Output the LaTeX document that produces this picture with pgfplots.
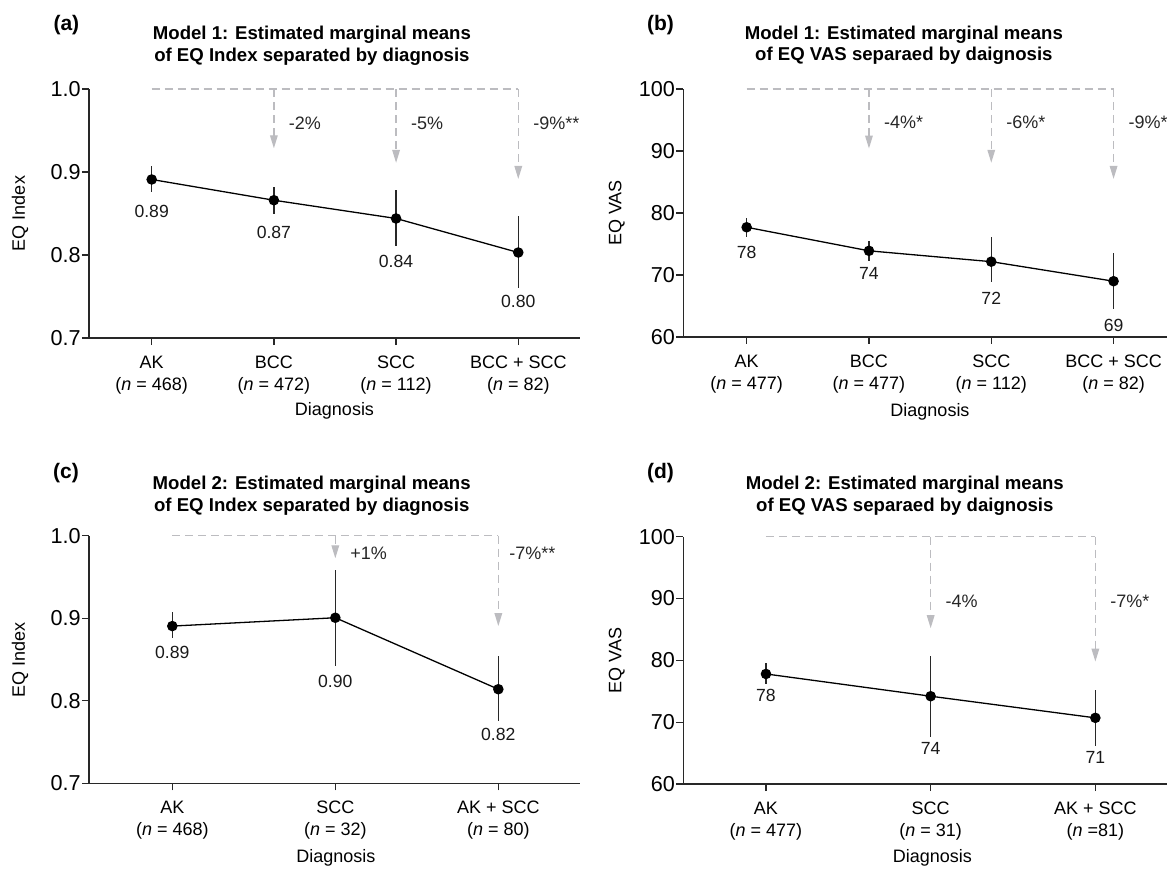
\documentclass[border=0pt]{standalone}
\usepackage{fontspec}
\setmainfont{Liberation Sans}
\usepackage{pgfplots}
\pgfplotsset{compat=1.18}
\usetikzlibrary{arrows.meta}
\definecolor{ag}{RGB}{188,188,192}
\definecolor{ax}{RGB}{40,40,40}
\newcommand{\tickf}{\fontsize{10.8}{12}\selectfont}
\newcommand{\catf}{\fontsize{9}{11}\selectfont}
\newcommand{\labf}{\fontsize{8.8}{10}\selectfont}
\newcommand{\titf}{\fontsize{9.3}{10.85}\selectfont\bfseries}
\newcommand{\letf}{\fontsize{10.5}{12}\selectfont\bfseries}

\pgfplotsset{
 panel/.style={
  scale only axis, clip=false,
  axis x line*=bottom, axis y line*=left,
  axis line style={line width=0.65pt, ax, -},
  tick align=outside, major tick length=3.5pt,
  xtick pos=left, ytick pos=left,
  every tick/.style={line width=0.65pt, ax},
  xticklabel style={align=center, font=\catf, yshift=-2pt},
  yticklabel style={font=\tickf, inner sep=0pt, xshift=-0.5pt, /pgf/number format/assume math mode=true},
  label style={font=\catf},
  xlabel={Diagnosis},
  title style={font=\titf, align=center, anchor=center, yshift=-6pt},
 },
 meanline/.style={black, line width=0.65pt, mark=*, mark size=2.3pt,
   mark options={fill=black, draw=black},
   error bars/.cd, y dir=both, y explicit, error mark=none,
   error bar style={line width=0.75pt, ax}},
 dlab/.style={draw=none, mark=none, nodes near coords, point meta=explicit symbolic,
   nodes near coords style={anchor=center, font=\labf, text=black!90}},
 pct/.style={draw=none, mark=none, nodes near coords, point meta=explicit symbolic,
   nodes near coords style={anchor=west, font=\catf, text=black!85, xshift=#1}},
 pct/.default=4pt,
 dash/.style={ag, line width=0.65pt, dash pattern=on 4pt off 2.5pt},
 darr/.style={ag, line width=0.65pt, dash pattern=on 4pt off 2.5pt,
   -{Triangle[width=3.8pt,length=6.5pt]}},
}

\begin{document}
\begin{tikzpicture}
\useasboundingbox (0,0) rectangle (583.5pt,434.5pt);

% ---------------- (a)
\begin{axis}[panel,
  at={(44.5pt,265.5pt)}, anchor=south west,
  width=245.5pt, height=124.5pt,
  xmin=-0.513, xmax=3.505, ymin=0.7, ymax=1.0,
  xtick={0,1,2,3},
  xticklabels={{AK\\(\textit{n} = 468)},{BCC\\(\textit{n} = 472)},{SCC\\(\textit{n} = 112)},{BCC + SCC\\(\textit{n} = 82)}},
  ytick={0.7,0.8,0.9,1.0},
  yticklabel style={/pgf/number format/.cd, fixed, fixed zerofill, precision=1},
  ylabel={EQ Index},
  ylabel style={at={(axis description cs:-0.1405,0.5)}, anchor=center},
  xlabel style={at={(axis description cs:0.5,-0.293)}, anchor=center},
  title={Model 1: Estimated marginal means\\of EQ Index separated by diagnosis},
  title style={at={(axis description cs:0.454,1.173)}},
  extra description/.code={\node[font=\letf] at (axis description cs:-0.046,1.257) {(a)};},
]
\addplot[dash] coordinates {(0,1.0) (3,1.0)};
\addplot[darr] coordinates {(1,1.0) (1,0.9285)};
\addplot[darr] coordinates {(2,1.0) (2,0.911)};
\addplot[darr] coordinates {(3,1.0) (3,0.8916)};
\addplot[meanline] table[x=x, y=y, y error plus=ep, y error minus=em] {
x y ep em
0 0.891 0.0165 0.0156
1 0.866 0.0156 0.0170
2 0.844 0.0340 0.0330
3 0.803 0.0440 0.0430
};
\addplot[dlab] table[meta=l] {
x y l
0 0.853 0.89
1 0.827 0.87
2 0.792 0.84
3 0.744 0.80
};
\addplot[pct] table[meta=l] {
x y l
1 0.959 -2\%
2 0.959 -5\%
3 0.959 -9\%**
};
\end{axis}

% ---------------- (b)
\begin{axis}[panel,
  at={(341.65pt,266pt)}, anchor=south west,
  width=241.85pt, height=124pt,
  xmin=-0.518, xmax=3.437, ymin=60, ymax=100,
  xtick={0,1,2,3},
  xticklabels={{AK\\(\textit{n} = 477)},{BCC\\(\textit{n} = 477)},{SCC\\(\textit{n} = 112)},{BCC + SCC\\(\textit{n} = 82)}},
  ytick={60,70,80,90,100},
  ylabel={EQ VAS},
  ylabel style={at={(axis description cs:-0.1377,0.5)}, anchor=center},
  xlabel style={at={(axis description cs:0.51,-0.302)}, anchor=center},
  title={Model 1: Estimated marginal means\\of EQ VAS separaed by daignosis},
  title style={at={(axis description cs:0.456,1.176)}},
  extra description/.code={\node[font=\letf] at (axis description cs:-0.047,1.258) {(b)};},
]
\addplot[dash] coordinates {(0,100) (3,100)};
\addplot[darr] coordinates {(1,100) (1,90.4)};
\addplot[darr] coordinates {(2,100) (2,88.1)};
\addplot[darr] coordinates {(3,100) (3,85.5)};
\addplot[meanline] table[x=x, y=y, y error plus=ep, y error minus=em] {
x y ep em
0 77.7 1.45 1.5
1 73.9 1.6 1.6
2 72.15 3.95 3.25
3 69.0 4.5 4.5
};
\addplot[dlab] table[meta=l] {
x y l
0 73.6 78
1 70.3 74
2 66.2 72
3 61.8 69
};
\addplot[pct] table[meta=l] {
x y l
1 94.6 -4\%*
2 94.6 -6\%*
3 94.6 -9\%*
};
\end{axis}

% ---------------- (c)
\begin{axis}[panel,
  at={(44.5pt,42.85pt)}, anchor=south west,
  width=245.5pt, height=123.8pt,
  xmin=-0.511, xmax=2.501, ymin=0.7, ymax=1.0,
  xtick={0,1,2},
  xticklabels={{AK\\(\textit{n} = 468)},{SCC\\(\textit{n} = 32)},{AK + SCC\\(\textit{n} = 80)}},
  ytick={0.7,0.8,0.9,1.0},
  yticklabel style={/pgf/number format/.cd, fixed, fixed zerofill, precision=1},
  ylabel={EQ Index},
  ylabel style={at={(axis description cs:-0.1405,0.5)}, anchor=center},
  xlabel style={at={(axis description cs:0.503,-0.303)}, anchor=center},
  title={Model 2: Estimated marginal means\\of EQ Index separated by diagnosis},
  title style={at={(axis description cs:0.4536,1.161)}},
  extra description/.code={\node[font=\letf] at (axis description cs:-0.047,1.252) {(c)};},
]
\addplot[dash] coordinates {(0,1.0) (2,1.0)};
\addplot[darr] coordinates {(1,1.0) (1,0.9726)};
\addplot[darr] coordinates {(2,1.0) (2,0.8905)};
\addplot[meanline] table[x=x, y=y, y error plus=ep, y error minus=em] {
x y ep em
0 0.8905 0.0165 0.0145
1 0.9006 0.0584 0.0586
2 0.814 0.040 0.039
};
\addplot[dlab] table[meta=l] {
x y l
0 0.858 0.89
1 0.823 0.90
2 0.759 0.82
};
\addplot[pct] table[meta=l] {
x y l
1 0.979 +1\%
};
\addplot[pct=2pt] table[meta=l] {
x y l
2 0.979 -7\%**
};
\end{axis}

% ---------------- (d)
\begin{axis}[panel,
  at={(341.65pt,42.5pt)}, anchor=south west,
  width=241.85pt, height=123.65pt,
  xmin=-0.502, xmax=2.435, ymin=60, ymax=100,
  xtick={0,1,2},
  xticklabels={{AK\\(\textit{n} = 477)},{SCC\\(\textit{n} = 31)},{AK + SCC\\(\textit{n} =81)}},
  ytick={60,70,80,90,100},
  ylabel={EQ VAS},
  ylabel style={at={(axis description cs:-0.1377,0.5)}, anchor=center},
  xlabel style={at={(axis description cs:0.515,-0.300)}, anchor=center},
  title={Model 2: Estimated marginal means\\of EQ VAS separaed by daignosis},
  title style={at={(axis description cs:0.458,1.165)}},
  extra description/.code={\node[font=\letf] at (axis description cs:-0.047,1.256) {(d)};},
]
\addplot[dash] coordinates {(0,100) (2,100)};
\addplot[darr] coordinates {(1,100) (1,85.2)};
\addplot[darr] coordinates {(2,100) (2,79.8)};
\addplot[meanline] table[x=x, y=y, y error plus=ep, y error minus=em] {
x y ep em
0 77.8 1.8 1.7
1 74.2 6.5 6.6
2 70.7 4.5 4.5
};
\addplot[dlab] table[meta=l] {
x y l
0 74.3 78
1 65.8 74
2 64.3 71
};
\addplot[pct] table[meta=l] {
x y l
1 89.5 -4\%
2 89.5 -7\%*
};
\end{axis}
\end{tikzpicture}
\end{document}
